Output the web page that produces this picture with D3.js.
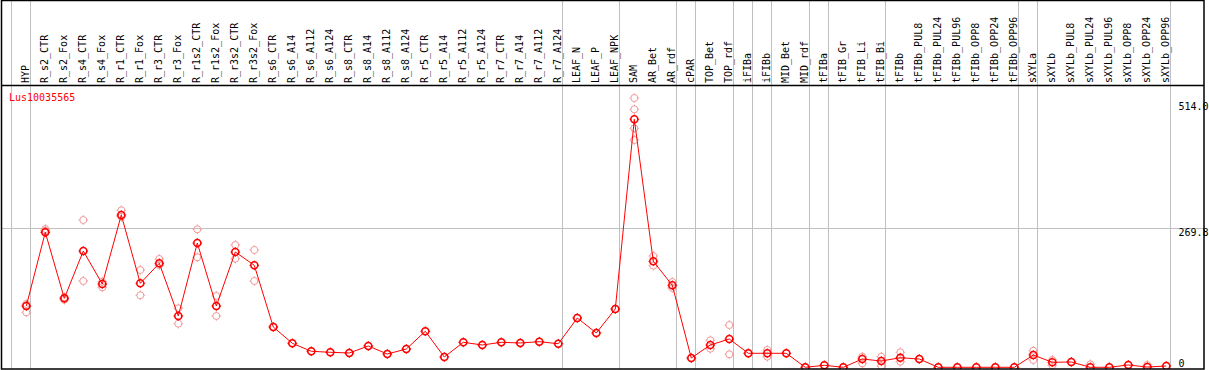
<!DOCTYPE html>
<html><head><meta charset="utf-8">
<script src="https://cdn.jsdelivr.net/npm/d3@7"></script>
<style>body{margin:0;background:#fff}svg{display:block}text{font-family:"DejaVu Sans Mono",monospace;font-size:10px}</style>
</head><body><svg id="c" width="1209" height="370"></svg>
<script>
const geneName = "Lus10035565";
const categories = ["HYP","R_s2_CTR","R_s2_Fox","R_s4_CTR","R_s4_Fox","R_r1_CTR","R_r1_Fox","R_r3_CTR","R_r3_Fox","R_r1s2_CTR","R_r1s2_Fox","R_r3s2_CTR","R_r3s2_Fox","R_s6_CTR","R_s6_A14","R_s6_A112","R_s6_A124","R_s8_CTR","R_s8_A14","R_s8_A112","R_s8_A124","R_r5_CTR","R_r5_A14","R_r5_A112","R_r5_A124","R_r7_CTR","R_r7_A14","R_r7_A112","R_r7_A124","LEAF_N","LEAF_P","LEAF_NPK","SAM","AR_Bet","AR_rdf","cPAR","TOP_Bet","TOP_rdf","iFIBa","iFIBb","MID_Bet","MID_rdf","tFIBa","tFIB_Gr","tFIB_Li","tFIB_Bi","tFIBb","tFIBb_PUL8","tFIBb_PUL24","tFIBb_PUL96","tFIBb_OPP8","tFIBb_OPP24","tFIBb_OPP96","sXYLa","sXYLb","sXYLb_PUL8","sXYLb_PUL24","sXYLb_PUL96","sXYLb_OPP8","sXYLb_OPP24","sXYLb_OPP96"];
const means = [119,262,133.9,225.7,161.7,295.6,163,201.9,99.6,241.3,119,223.8,198,78.2,46.6,31.1,29.1,27.8,41.3,25.8,35.5,69.9,20,48.5,43.3,48.5,47.2,49.7,45.8,95.7,66.6,113.2,481.4,205.7,159.2,18,43.3,54.9,27.2,27.2,27.2,0,3.9,0,16.1,12.2,18.6,16.1,0,0,0,0,0,23.9,9.7,10.3,0,0,4.5,0.5,2.5];
const replicates = [
 [122.9,106.8,119],[268.4,265.1,262],[136,131],[285.9,167.5],[166.1,155.3],[304.7,292.3],[188.9,139.8],[210.2,198.6],[114.5,84.6],[267.9,213.5],[138.4,99.6],[237.4,210.8],[227.7,167.5],
 [78.2],[46.6],[31.1],[29.1],[27.8],[41.3],[25.8],[35.5],[69.9],[20],[48.5],[43.3],[48.5],[47.2],[49.7],[45.8],[95.7],[66.6],[113.2],
 [522.7,500.8,463.9,441.2],[216,197.2],[165.6,153.9],[18],[52.4,36.1],[82.1,25.2],[27.2],[33.6,20.6],[27.2],[0],[3.9],[0],[20.6,7.8],[20.6,2.5],[29.1,10.9],[16.1],[0],[0],[0],[0],[0],
 [32.2,14.2],[14.2,3.9],[10.3],[5.8],[0],[4.5],[4.5],[2.5]
];
const groupStarts = ["HYP","R_s2_CTR","LEAF_N","SAM","cPAR","TOP_Bet","iFIBa","iFIBb","MID_Bet","tFIBa","tFIB_Gr","tFIBb","sXYLa","sXYLb"];
const yTicks = [0, 269.8, 514.0];
const yTickLabels = ["0","269.8","514.0"];

const svg = d3.select("#c");
const frameL = 1, frameR = 1204, frameT = 0.5, headerY = 85.5, frameB = 369;
const step = 19;
const x = d3.scalePoint().domain(categories).range([26.3, 26.3 + step*(categories.length-1)]);
const y = d3.scaleLinear().domain([0, 269.8]).range([367.3, 228.3]);

// group separator lines
const sepX = groupStarts.map(c => x(c) - 15.3).concat([x(categories[categories.length-1]) + 3.7]);
svg.append("g").selectAll("line").data(sepX).join("line")
  .attr("x1", d => Math.round(d)+0.5).attr("x2", d => Math.round(d)+0.5)
  .attr("y1", frameT).attr("y2", frameB).attr("stroke", "#c0c0c0").attr("stroke-width", 1);

// horizontal grid at middle tick
svg.append("line").attr("x1", frameL).attr("x2", frameR)
  .attr("y1", Math.round(y(yTicks[1]))+0.5).attr("y2", Math.round(y(yTicks[1]))+0.5)
  .attr("stroke", "#c0c0c0");

// category labels
svg.append("g").selectAll("text").data(categories).join("text")
  .attr("transform", d => `translate(${x(d)+2.7},83) rotate(-90)`)
  .attr("text-anchor", "start").attr("fill", "#000").text(d => d);

// y labels
const yAxisG = svg.append("g");
yTicks.forEach((t, i) => {
  let ty = y(t) + 7.8;
  if (t === 0) ty = 366.5;
  yAxisG.append("text").attr("x", 1178.5).attr("y", ty).attr("fill", "#000").text(yTickLabels[i]);
});

// gene name
svg.append("text").attr("x", 9).attr("y", 100.5).attr("fill", "#ff0000").text(geneName);

svg.append("defs").append("clipPath").attr("id", "pc").append("rect")
  .attr("x", frameL).attr("y", headerY).attr("width", frameR-frameL).attr("height", frameB-headerY);
const plot = svg.append("g").attr("clip-path", "url(#pc)");

function marker(g, cx, cy, color, r, sw) {
  g.append("circle").attr("cx", cx).attr("cy", cy).attr("r", r)
    .attr("fill", "none").attr("stroke", color).attr("stroke-width", sw);
  const t = r + 1.3;
  [[0,-1],[0,1],[-1,0],[1,0]].forEach(([dx,dy]) => {
    g.append("line").attr("x1", cx+dx*(r-0.3)).attr("y1", cy+dy*(r-0.3))
      .attr("x2", cx+dx*t).attr("y2", cy+dy*t).attr("stroke", color).attr("stroke-width", 1);
  });
}

// replicates
const repG = plot.append("g");
categories.forEach((c, i) => {
  replicates[i].forEach(v => marker(repG, x(c), y(v), "#f29a9a", 3.5, 1));
});

// mean line
plot.append("path").datum(means)
  .attr("d", d3.line().x((d, i) => x(categories[i])).y(d => y(d)))
  .attr("fill", "none").attr("stroke", "#ff0000").attr("stroke-width", 1);

const meanG = plot.append("g");
categories.forEach((c, i) => marker(meanG, x(c), y(means[i]), "#ff0000", 3.5, 1.6));

// frame
svg.append("rect").attr("x", frameL+0.5).attr("y", frameT).attr("width", frameR-frameL-0.5).attr("height", frameB-frameT)
  .attr("fill", "none").attr("stroke", "#000").attr("stroke-width", 1.5);
svg.append("line").attr("x1", frameL).attr("x2", frameR).attr("y1", headerY).attr("y2", headerY)
  .attr("stroke", "#000").attr("stroke-width", 1.5);
</script></body></html>
